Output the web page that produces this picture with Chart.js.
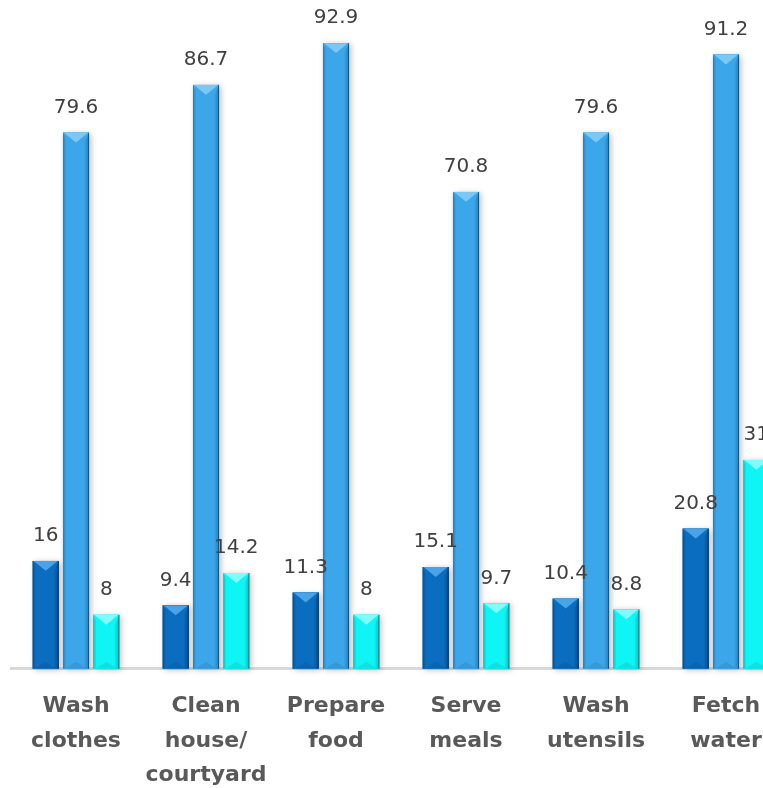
<!DOCTYPE html>
<html>
<head>
<meta charset="utf-8">
<script src="https://cdn.jsdelivr.net/npm/chart.js@4"></script>
<style>
  html, body { margin: 0; padding: 0; background: #ffffff; overflow: hidden; }
  #wrap { width: 800px; height: 813px; }
</style>
</head>
<body>
<div id="wrap"><canvas id="c" width="800" height="813"></canvas></div>
<script>
// Household chores and the share (%) reported for each group
const categories = [
  ['Wash', 'clothes'],
  ['Clean', 'house/', 'courtyard'],
  ['Prepare', 'food'],
  ['Serve', 'meals'],
  ['Wash', 'utensils'],
  ['Fetch', 'water']
];
const series1 = [16, 9.4, 11.3, 15.1, 10.4, 20.8];
const series2 = [79.6, 86.7, 92.9, 70.8, 79.6, 91.2];
const series3 = [8, 14.2, 8, 9.7, 8.8, 31];

const baseColors = ['#0a6dbf', '#3ba6ea', '#0ff5f5'];
const lightColors = ['#4aa3e8', '#7cc8f5', '#7ffcfc'];
const edgeColors = ['#054d8c', '#1f7fc0', '#06bcc2'];

function shade(ctx, x0, x1, base, edge) {
  const g = ctx.createLinearGradient(x0, 0, x1, 0);
  g.addColorStop(0, edge);
  g.addColorStop(0.12, base);
  g.addColorStop(0.8, base);
  g.addColorStop(1, edge);
  return g;
}

// Bevelled look for each bar: side shading, a pyramid cap and a soft shadow
const bevelPlugin = {
  id: 'bevel',
  afterDatasetsDraw(chart) {
    const ctx = chart.ctx;
    chart.data.datasets.forEach((ds, di) => {
      const meta = chart.getDatasetMeta(di);
      meta.data.forEach((bar) => {
        const w = bar.width;
        const l = bar.x - w / 2, r = bar.x + w / 2;
        const t = bar.y, b = bar.base;
        ctx.save();
        // shadow
        ctx.shadowColor = 'rgba(0,0,0,0.25)';
        ctx.shadowBlur = 6;
        ctx.shadowOffsetX = 2;
        ctx.shadowOffsetY = 1;
        ctx.fillStyle = baseColors[di];
        ctx.fillRect(l, t, w, b - t);
        ctx.restore();

        ctx.save();
        ctx.fillStyle = shade(ctx, l, r, baseColors[di], edgeColors[di]);
        ctx.fillRect(l, t, w, b - t);
        // pyramid cap
        const cap = Math.min(w * 0.38, (b - t) / 2);
        ctx.beginPath();
        ctx.moveTo(l, t);
        ctx.lineTo(r, t);
        ctx.lineTo(r - w * 0.18, t + cap);
        ctx.lineTo(l + w * 0.18, t + cap);
        ctx.closePath();
        ctx.fillStyle = baseColors[di];
        ctx.fill();
        ctx.beginPath();
        ctx.moveTo(l + 1, t);
        ctx.lineTo(r - 1, t);
        ctx.lineTo(bar.x, t + cap);
        ctx.closePath();
        ctx.fillStyle = lightColors[di];
        ctx.fill();
        // faint base bevel
        ctx.beginPath();
        ctx.moveTo(l + 2, b);
        ctx.lineTo(r - 2, b);
        ctx.lineTo(bar.x, b - cap * 0.7);
        ctx.closePath();
        ctx.fillStyle = 'rgba(0,0,0,0.08)';
        ctx.fill();
        // right edge outline
        ctx.fillStyle = 'rgba(0,0,0,0.35)';
        ctx.fillRect(r - 1, t, 1, b - t);
        ctx.restore();
      });
    });
    // value labels
    ctx.save();
    ctx.font = '20px "DejaVu Sans"';
    ctx.fillStyle = '#404040';
    ctx.textAlign = 'center';
    ctx.textBaseline = 'middle';
    chart.data.datasets.forEach((ds, di) => {
      const meta = chart.getDatasetMeta(di);
      meta.data.forEach((bar, i) => {
        ctx.fillText(String(ds.data[i]), bar.x, bar.y - 25);
      });
    });
    ctx.restore();
  }
};

new Chart(document.getElementById('c'), {
  type: 'bar',
  data: {
    labels: categories,
    datasets: [
      { label: 'Series 1', data: series1, backgroundColor: 'rgba(0,0,0,0)' },
      { label: 'Series 2', data: series2, backgroundColor: 'rgba(0,0,0,0)' },
      { label: 'Series 3', data: series3, backgroundColor: 'rgba(0,0,0,0)' }
    ]
  },
  options: {
    responsive: false,
    animation: false,
    layout: { padding: { left: 11, right: 9, top: 29, bottom: 0 } },
    categoryPercentage: 0.7,
    barPercentage: 0.86,
    plugins: { legend: { display: false }, tooltip: { enabled: false } },
    scales: {
      x: {
        grid: { display: false, drawTicks: false },
        border: { display: true, color: '#d9d9d9', width: 3 },
        ticks: {
          padding: 21,
          color: '#595959',
          font: { family: '"DejaVu Sans"', size: 22, weight: 'bold', lineHeight: 1.55 },
          maxRotation: 0,
          autoSkip: false
        }
      },
      y: {
        display: false,
        min: 0,
        max: 95
      }
    }
  },
  plugins: [bevelPlugin]
});
</script>
</body>
</html>
